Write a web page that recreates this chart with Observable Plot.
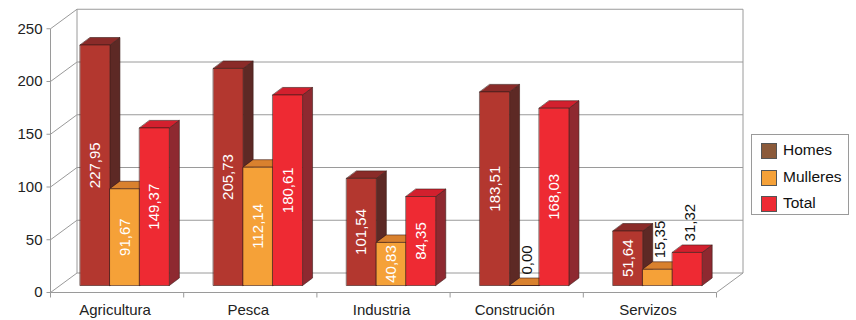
<!DOCTYPE html>
<html>
<head>
<meta charset="utf-8">
<script src="https://cdn.jsdelivr.net/npm/d3@7"></script>
<script src="https://cdn.jsdelivr.net/npm/@observablehq/plot@0.6"></script>
<style>
  html, body { margin: 0; padding: 0; background: #fff; }
  #wrap { position: relative; width: 856px; height: 320px; font-family: "Liberation Sans", Arial, sans-serif; }
  #legend { position: absolute; left: 751px; top: 134px; width: 96px; height: 79px; border: 1px solid #9a9a9a; background: #fff; }
  .item { position: absolute; left: 9px; height: 16px; font-size: 15.5px; line-height: 16px; color: #111; }
  .sw { position: absolute; left: 0; top: 0; width: 14px; height: 14px; border: 1px solid #555; }
  .lab { position: absolute; left: 22px; top: -1px; white-space: nowrap; }
</style>
</head>
<body>
<div id="wrap"><div id="chart"></div><div id="legend"></div></div>
<script>
// ---- data ----
const categories = ["Agricultura", "Pesca", "Industria", "Construción", "Servizos"];
const homes    = [227.95, 205.73, 101.54, 183.51, 51.64];
const mulleres = [91.67, 112.14, 40.83, 0.00, 15.35];
const total    = [149.37, 180.61, 84.35, 168.03, 31.32];
const seriesNames = ["Homes", "Mulleres", "Total"];
const yTicks = [0, 50, 100, 150, 200, 250];

// ---- styling ----
const faceColors = {
  Homes:    {front: "#b3372f", top: "#8a2b29", side: "#5d2925", legend: "#8b5a3a"},
  Mulleres: {front: "#f5a138", top: "#d9812e", side: "#b0651f", legend: "#f5a138"},
  Total:    {front: "#ee2a33", top: "#d2202e", side: "#8e2930", legend: "#ee2a33"}
};

// pixel-per-unit of the scales (x: 666px over 5 categories, y: px per value unit)
const PX_X = 666 / 5, PX_Y = 1.055;
// depth vectors in pixels, converted to data units
const WX = 26.5 / PX_X, WY = 19.5 / PX_Y;   // wall depth
const BX0 = 9.5 / PX_X, BY0 = 7 / PX_Y;     // bar front plane offset
const BDX = 10 / PX_X, BDY = 7.5 / PX_Y;    // bar depth
const GAP = 0.152, BW = 0.223;              // bar position/width within category

const seriesValues = [homes, mulleres, total];
const faces = [];
const sides = [], tops = [], fronts = [];
const labels = [];
categories.forEach((c, i) => {
  seriesNames.forEach((s, j) => {
    const v = seriesValues[j][i];
    const x1 = i + BX0 + GAP + j * BW, x2 = x1 + BW;
    const y1 = BY0, y2 = BY0 + v;
    const col = faceColors[s];
    const id = `${i}-${j}`;
    [[x2, y1], [x2 + BDX, y1 + BDY], [x2 + BDX, y2 + BDY], [x2, y2]]
      .forEach(([x, y]) => sides.push({x, y, id: "s" + id, color: col.side}));
    [[x1, y2], [x2, y2], [x2 + BDX, y2 + BDY], [x1 + BDX, y2 + BDY]]
      .forEach(([x, y]) => tops.push({x, y, id: "t" + id, color: col.top}));
    [[x1, y1], [x2, y1], [x2, y2], [x1, y2]]
      .forEach(([x, y]) => fronts.push({x, y, id: "f" + id, color: col.front}));
    const inside = v >= 35;
    labels.push({
      x: (x1 + x2) / 2,
      y: inside ? BY0 + v / 2 : BY0 + v,
      text: v.toFixed(2).replace(".", ","),
      inside
    });
  });
});
faces.push(...sides, ...tops, ...fronts);

const grid = "#9a9a9a";
const chart = Plot.plot({
  width: 856,
  height: 320,
  marginLeft: 50, marginRight: 140, marginTop: 28, marginBottom: 28,
  x: {domain: [0, 5], range: [50, 716], axis: null},
  y: {domain: [0, 250], range: [292, 292 - 250 * PX_Y], axis: null},
  color: {type: "identity"},
  style: {fontFamily: "'Liberation Sans', Arial, sans-serif", fontSize: "15px", background: "#fff", overflow: "visible"},
  marks: [
    // back wall gridlines
    Plot.link(yTicks, {x1: WX, x2: 5 + WX, y1: d => d + WY, y2: d => d + WY, stroke: grid, strokeWidth: 1}),
    // left wall diagonals
    Plot.link(yTicks, {x1: 0, x2: WX, y1: d => d, y2: d => d + WY, stroke: grid, strokeWidth: 1}),
    // back verticals
    Plot.link([WX, 5 + WX], {x1: d => d, x2: d => d, y1: WY, y2: 250 + WY, stroke: grid, strokeWidth: 1}),
    // right floor diagonal
    Plot.link([5], {x1: d => d, x2: d => d + WX, y1: 0, y2: WY, stroke: grid, strokeWidth: 1}),
    // front axis lines
    Plot.link([0], {x1: 0, x2: 0, y1: 0, y2: 250, stroke: grid, strokeWidth: 1}),
    Plot.link([0], {x1: 0, x2: 5, y1: 0, y2: 0, stroke: grid, strokeWidth: 1}),
    // y ticks
    Plot.link(yTicks, {x1: 0, x2: -4 / PX_X, y1: d => d, y2: d => d, stroke: grid, strokeWidth: 1}),
    // x ticks at category boundaries
    Plot.link(d3.range(6), {x1: d => d, x2: d => d, y1: 0, y2: -5 / PX_Y, stroke: grid, strokeWidth: 1}),
    // bars
    Plot.line(faces, {x: "x", y: "y", z: "id", fill: "color", stroke: "#3c1c1a", strokeWidth: 0.6, curve: "linear-closed"}),
    // value labels
    Plot.text(labels.filter(d => d.inside), {x: "x", y: "y", text: "text", rotate: -90, fill: "white", fontSize: 15, textAnchor: "middle"}),
    Plot.text(labels.filter(d => !d.inside), {x: "x", y: "y", text: "text", rotate: -90, fill: "#111", fontSize: 15, textAnchor: "start", dx: 3, dy: -11}),
    // y tick labels
    Plot.text(yTicks, {x: 0, y: d => d, text: d => String(d), textAnchor: "end", dx: -8, fontSize: 15, fill: "#222"}),
    // category labels
    Plot.text(categories, {x: (d, i) => i + 0.5, y: 0, text: d => d, dy: 18, dx: -2, fontSize: 15, fill: "#222"})
  ]
});
document.getElementById("chart").appendChild(chart);

// legend
const legend = document.getElementById("legend");
seriesNames.forEach((s, k) => {
  const item = document.createElement("div");
  item.className = "item";
  item.style.top = (8 + k * 26.5) + "px";
  item.innerHTML = `<span class="sw" style="background:${faceColors[s].legend}"></span><span class="lab">${s}</span>`;
  legend.appendChild(item);
});
</script>
</body>
</html>
